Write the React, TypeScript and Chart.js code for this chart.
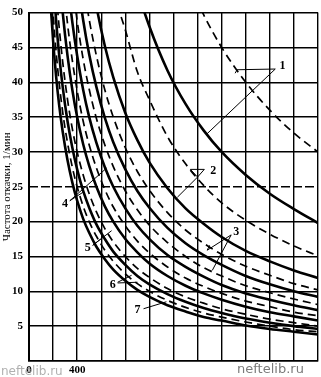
import React, { useEffect, useRef } from 'react';
import { Chart, registerables } from 'chart.js';

Chart.register(...registerables);

// Depth-like x values (shared sampling grid)
const xs = [160, 180, 200, 225, 250, 280, 320, 360, 400, 450, 500, 560, 630, 700, 800, 900, 1000, 1150, 1300, 1450, 1600, 1800, 2000, 2200, 2400];

const xTickLabels = [0, 400];
const yTickLabels = [5, 10, 15, 20, 25, 30, 35, 40, 45, 50];

// group 1
const solid1 = [null, null, null, null, null, null, null, null, null, null, null, null, null, 68.6, 60, 53.3, 48, 41.7, 36.9, 33.1, 30, 26.7, 24, 21.8, 19.8];
const dashed1 = [null, null, null, null, null, null, null, null, null, null, null, null, null, null, null, null, null, 62.6, 55.4, 49.7, 45, 40, 36, 32.7, 30];
// group 2
const solid2 = [null, null, null, null, null, null, null, 79.2, 71.3, 63.3, 57, 50.9, 45.2, 40.7, 35.6, 31.7, 28.5, 24.8, 21.9, 19.7, 17.8, 15.8, 14.3, 13, 11.9];
const dashed2 = [null, null, null, null, null, null, null, null, null, null, 75, 66, 58, 53, 47.5, 41.5, 37.5, 32.2, 28.3, 25.2, 22.7, 20.2, 18.2, 16.5, 15.1];
// group 3
const solid3 = [null, null, null, null, null, 78.6, 68.8, 61.1, 55, 48.9, 44, 39.3, 34.9, 31.4, 27.5, 24.4, 22, 19.1, 16.9, 15.2, 13.8, 12.2, 11, 10, 9.2];
const dashed3 = [null, null, null, null, null, null, 76.6, 68.1, 61.3, 54.4, 49, 43.8, 38.9, 35, 30.6, 27.2, 24.5, 21.3, 18.8, 16.9, 15.3, 13.6, 12.3, 11.1, 10.2];
// group 4
const solid4 = [null, null, null, 77.8, 70, 62.5, 54.7, 48.6, 43.8, 38.9, 35, 31.3, 27.8, 25, 21.9, 19.4, 17.5, 15.2, 13.5, 12.1, 10.9, 9.7, 8.8, 8, 7.3];
const dashed4 = [null, null, null, null, 78, 69.6, 60.9, 54.2, 48.8, 43.3, 39, 34.8, 31, 27.9, 24.4, 21.7, 19.5, 17, 15, 13.4, 12.2, 10.8, 9.8, 8.9, 8.1];
// group 5
const solid5 = [null, 77.8, 70, 62.2, 56, 50, 43.8, 38.9, 35, 31.1, 28, 25, 22.2, 20, 17.5, 15.6, 14, 12.2, 10.8, 9.7, 8.8, 7.8, 7, 6.4, 5.8];
const dashed5 = [null, null, 77.5, 68.9, 62, 55.4, 48.4, 43.1, 38.8, 34.4, 31, 27.7, 24.6, 22.1, 19.4, 17.2, 15.5, 13.5, 11.9, 10.7, 9.7, 8.6, 7.8, 7, 6.5];
// group 6
const solid6 = [68.8, 61.1, 55, 48.9, 44, 39.3, 34.4, 30.6, 27.5, 24.4, 22, 19.6, 17.5, 15.7, 13.8, 12.2, 11, 9.6, 8.5, 7.6, 6.9, 6.1, 5.5, 5, 4.6];
const dashed6 = [75, 66.7, 60, 53.3, 48, 42.9, 37.5, 33.3, 30, 26.7, 24, 21.4, 19, 17.1, 15, 13.3, 12, 10.4, 9.2, 8.3, 7.5, 6.7, 6, 5.5, 5];
// group 7
const solid7 = [57.5, 51.1, 46, 40.9, 36.8, 32.9, 28.8, 25.6, 23, 20.4, 18.4, 16.4, 14.6, 13.1, 11.5, 10.2, 9.2, 8, 7.1, 6.3, 5.8, 5.1, 4.6, 4.2, 3.8];
const dashed7 = [62.5, 55.6, 50, 44.4, 40, 35.7, 31.3, 27.8, 25, 22.2, 20, 17.9, 15.9, 14.3, 12.5, 11.1, 10, 8.7, 7.7, 6.9, 6.3, 5.6, 5, 4.5, 4.2];

const dashedGridValue = 25;

// Curve labels (data units) with leader lines
const curveLabels: { text: string; at: [number, number]; lines: [number, number][][] }[] = [
  { text: '1', at: [2105, 42.3], lines: [[[2045, 41.9], [1728, 41.8], [1712, 41.3]], [[2045, 41.9], [1472, 32.5]]] },
  { text: '2', at: [1530, 27.3], lines: [[[1340, 27.5], [1456, 27.5], [1400, 26.4], [1340, 27.5]], [[1400, 26.4], [1232, 23.5]]] },
  { text: '3', at: [1722, 18.5], lines: [[[1679, 18.1], [1480, 15.9], [1500, 16.6]], [[1679, 18.1], [1522, 13]]] },
  { text: '4', at: [298, 22.6], lines: [[[339, 23], [447, 24.2]], [[339, 23], [645, 27.7]]] },
  { text: '5', at: [488, 16.2], lines: [[[529, 16.6], [595, 17.5]], [[529, 16.6], [686, 18.7]]] },
  { text: '6', at: [695, 10.9], lines: [[[736, 11.3], [852, 12.3]], [[736, 11.2], [901, 11.3]]] },
  { text: '7', at: [901, 7.4], lines: [[[951, 7.5], [1141, 8.5]]] },
];

const toPts = (arr: (number | null)[]) => xs.map((x, i) => ({ x, y: arr[i] }));

export default function App() {
  const ref = useRef<HTMLCanvasElement>(null);
  useEffect(() => {
    document.body.style.margin = '0';
    const canvas = ref.current!;
    const solidStyle = { borderColor: '#000', borderWidth: 2.6, pointRadius: 0, cubicInterpolationMode: 'monotone' as const, fill: false };
    const dashedStyle = { borderColor: '#000', borderWidth: 1.7, borderDash: [8, 5], pointRadius: 0, cubicInterpolationMode: 'monotone' as const, fill: false };
    const series = [
      [solid1, dashed1], [solid2, dashed2], [solid3, dashed3], [solid4, dashed4],
      [solid5, dashed5], [solid6, dashed6], [solid7, dashed7],
    ];
    const datasets: any[] = [
      { label: 'grid25', data: [{ x: 0, y: dashedGridValue }, { x: 2400, y: dashedGridValue }], borderColor: '#000', borderWidth: 1.4, borderDash: [9, 3], pointRadius: 0 },
    ];
    series.forEach(([s, d], i) => {
      datasets.push({ label: `${i + 1}`, data: toPts(s), ...solidStyle });
      datasets.push({ label: `${i + 1}'`, data: toPts(d), ...dashedStyle });
    });

    const overlay = {
      id: 'overlay',
      beforeDraw(chart: any) {
        const ctx = chart.ctx;
        ctx.save();
        ctx.fillStyle = '#fff';
        ctx.fillRect(0, 0, chart.width, chart.height);
        ctx.restore();
      },
      afterDatasetsDraw(chart: any) {
        const ctx = chart.ctx;
        const xS = chart.scales.x;
        const yS = chart.scales.y;
        ctx.save();
        ctx.strokeStyle = '#000';
        ctx.lineWidth = 1;
        ctx.fillStyle = '#000';
        ctx.font = 'bold 12px "Liberation Serif"';
        ctx.textAlign = 'center';
        ctx.textBaseline = 'middle';
        curveLabels.forEach((l) => {
          l.lines.forEach((ln) => {
            ctx.beginPath();
            ln.forEach((p, k) => {
              const px = xS.getPixelForValue(p[0]);
              const py = yS.getPixelForValue(p[1]);
              if (k === 0) ctx.moveTo(px, py); else ctx.lineTo(px, py);
            });
            ctx.stroke();
          });
          const tx = xS.getPixelForValue(l.at[0]);
          const ty = yS.getPixelForValue(l.at[1]);
          ctx.fillStyle = '#fff';
          ctx.fillRect(tx - 4, ty - 6, 8, 12);
          ctx.fillStyle = '#000';
          ctx.fillText(l.text, tx, ty);
        });
        ctx.restore();
      },
      afterDraw(chart: any) {
        const ctx = chart.ctx;
        ctx.save();
        ctx.textAlign = 'left';
        ctx.textBaseline = 'alphabetic';
        ctx.font = '13px "DejaVu Sans"';
        ctx.fillStyle = '#7a7a7a';
        ctx.fillText('neftelib.ru', 237, 373);
        ctx.font = '12px "DejaVu Sans"';
        ctx.fillStyle = 'rgba(150,150,150,0.75)';
        ctx.fillText('neftelib.ru', 1, 375);
        ctx.restore();
      },
    };

    const chart = new Chart(canvas, {
      type: 'line',
      data: { datasets },
      options: {
        animation: false,
        responsive: false,
        devicePixelRatio: 1,
        layout: { padding: { top: 2, right: 2, left: 0, bottom: 0 } },
        plugins: { legend: { display: false }, tooltip: { enabled: false } },
        elements: { line: { tension: 0 } },
        scales: {
          x: {
            type: 'linear',
            min: 0,
            max: 2400,
            afterFit(scale: any) { scale.height = 16; },
            grid: { color: '#000', lineWidth: 1.4, drawTicks: false },
            border: { display: true, color: '#000', width: 1.6 },
            ticks: {
              stepSize: 200,
              autoSkip: false,
              maxRotation: 0,
              padding: 3,
              color: '#000',
              font: { family: 'Liberation Serif', size: 11, weight: 'bold' },
              callback: (v: any) => (xTickLabels.includes(Number(v)) ? String(v) : ''),
            },
          },
          y: {
            min: 0,
            max: 50,
            afterFit(scale: any) { scale.width = 29; },
            grid: {
              drawTicks: false,
              lineWidth: 1.4,
              color: (c: any) => (c.tick && c.tick.value === dashedGridValue ? 'rgba(0,0,0,0)' : '#000'),
            },
            border: { display: true, color: '#000', width: 2 },
            title: {
              display: true,
              text: 'Частота откачки, 1/мин',
              color: '#000',
              font: { family: 'Liberation Serif', size: 11 },
              padding: { top: 1, bottom: 0 },
            },
            ticks: {
              stepSize: 5,
              padding: 6,
              color: '#000',
              font: { family: 'Liberation Serif', size: 11, weight: 'bold' },
              callback: (v: any) => (yTickLabels.includes(Number(v)) ? String(v) : ''),
            },
          },
        },
      },
      plugins: [overlay],
    } as any);
    return () => chart.destroy();
  }, []);
  return <canvas ref={ref} width={321} height={377} style={{ display: 'block', width: 321, height: 377 }} />;
}
